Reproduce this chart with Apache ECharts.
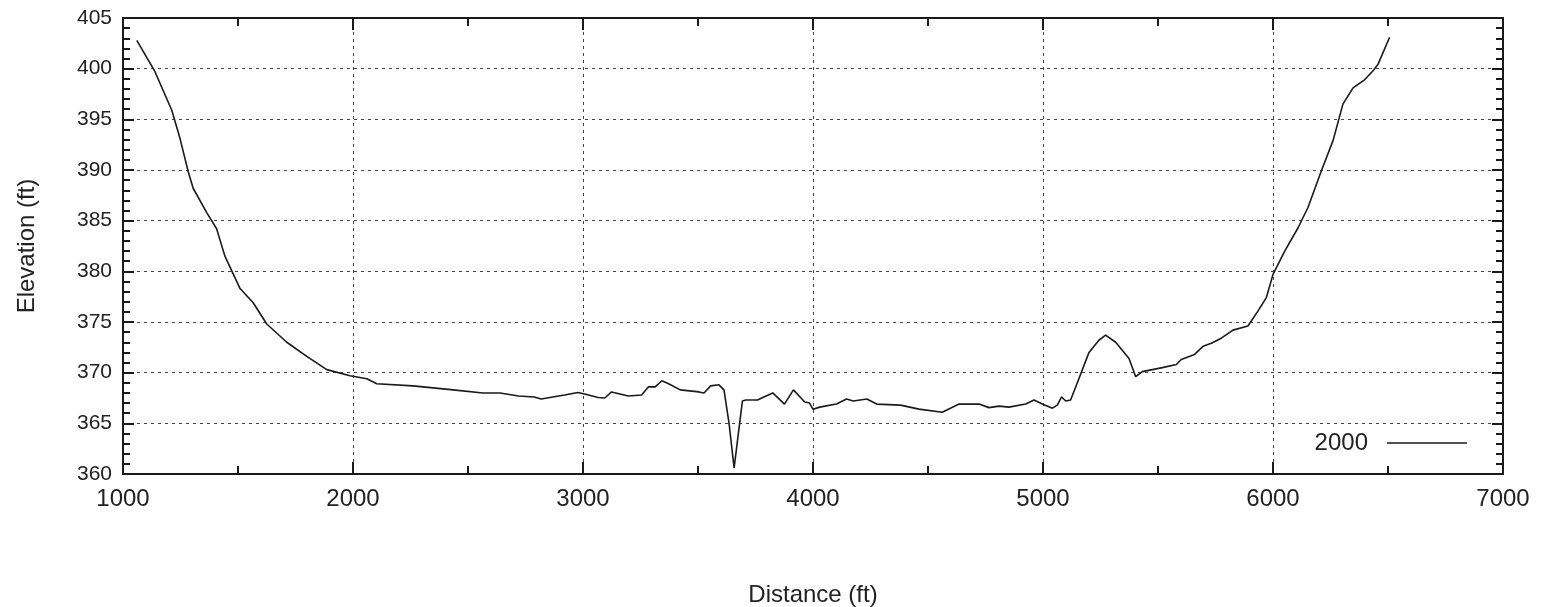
<!DOCTYPE html>
<html>
<head>
<meta charset="utf-8">
<script src="https://cdn.jsdelivr.net/npm/echarts@6/dist/echarts.min.js"></script>
<style>html,body{margin:0;padding:0;background:#fff;}#c{width:1542px;height:607px;}</style>
</head>
<body>
<div id="c"></div>
<script>
const seriesName = "2000";
const distance = [1060,1139,1212,1248,1284,1305,1364,1407,1443,1509,1566,1625,1712,1799,1886,1987,2060,2103,2261,2348,2435,2565,2639,2720,2788,2818,2920,2978,3007,3066,3095,3124,3197,3255,3285,3314,3343,3372,3423,3504,3526,3555,3591,3613,3635,3657,3693,3708,3759,3796,3825,3876,3915,3964,3985,4000,4029,4102,4146,4175,4234,4277,4380,4461,4562,4635,4722,4765,4809,4852,4925,4961,4997,5041,5062,5081,5099,5120,5156,5200,5243,5272,5316,5374,5403,5432,5519,5580,5601,5659,5696,5732,5775,5826,5891,5935,5971,6000,6051,6109,6152,6210,6261,6304,6348,6398,6435,6456,6507];
const elevation = [402.8,399.7,395.9,393.1,389.8,388.2,385.8,384.2,381.5,378.3,376.9,374.8,373.0,371.6,370.3,369.7,369.4,368.9,368.7,368.5,368.3,368.0,368.0,367.7,367.6,367.4,367.8,368.05,367.9,367.55,367.5,368.1,367.7,367.8,368.6,368.6,369.2,368.9,368.3,368.1,368.0,368.7,368.8,368.3,365.0,360.6,367.2,367.3,367.3,367.7,368.0,366.9,368.3,367.1,367.0,366.4,366.6,366.9,367.4,367.2,367.4,366.9,366.8,366.4,366.1,366.9,366.9,366.55,366.7,366.6,366.9,367.3,366.9,366.5,366.8,367.6,367.2,367.3,369.4,372.0,373.2,373.7,373.0,371.4,369.6,370.1,370.5,370.8,371.3,371.8,372.6,372.9,373.4,374.2,374.6,376.1,377.4,379.7,382.0,384.3,386.3,389.9,392.9,396.5,398.1,398.9,399.8,400.4,403.1];
const xTicks = [1000, 7000, 1000];   // min, max, interval
const yTicks = [360, 405, 5];

const chart = echarts.init(document.getElementById('c'));
const font = 'Liberation Sans, Arial, sans-serif';
const axisLine = {show: true, onZero: false, lineStyle: {color: '#1a1a1a', width: 2}};
const grid = {show: true, type: [3, 4], color: '#444', width: 1};
chart.setOption({
  backgroundColor: '#fff',
  animation: false,
  grid: {left: 123, right: 39, top: 18, bottom: 133, containLabel: false, outerBoundsMode: 'none'},
  legend: {
    data: [seriesName], right: 70, top: 426, align: 'right',
    icon: 'rect', itemWidth: 80, itemHeight: 1.5,
    textStyle: {fontFamily: font, fontSize: 24, color: '#222', padding: [0, 14, 0, 0]}
  },
  xAxis: [{
    type: 'value', min: xTicks[0], max: xTicks[1], interval: xTicks[2],
    name: 'Distance (ft)', nameLocation: 'middle', nameGap: 109,
    nameTextStyle: {fontFamily: font, fontSize: 24, color: '#222'},
    axisLine: axisLine,
    axisTick: {show: true, inside: true, length: 12, lineStyle: {color: '#1a1a1a', width: 2}},
    minorTick: {show: true, splitNumber: 2, length: 8, lineStyle: {color: '#1a1a1a', width: 2}},
    axisLabel: {fontFamily: font, fontSize: 24, color: '#222', margin: 13, formatter: v => String(v)},
    splitLine: {show: true, lineStyle: grid}
  }, {
    type: 'value', position: 'top', min: xTicks[0], max: xTicks[1], interval: xTicks[2],
    axisLine: axisLine,
    axisTick: {show: true, inside: true, length: 12, lineStyle: {color: '#1a1a1a', width: 2}},
    minorTick: {show: true, splitNumber: 2, length: 8, lineStyle: {color: '#1a1a1a', width: 2}},
    axisLabel: {show: false}, splitLine: {show: false}
  }],
  yAxis: [{
    type: 'value', min: yTicks[0], max: yTicks[1], interval: yTicks[2],
    name: 'Elevation (ft)', nameLocation: 'middle', nameGap: 84,
    nameTextStyle: {fontFamily: font, fontSize: 24, color: '#222'},
    axisLine: axisLine,
    axisTick: {show: true, inside: true, length: 11, lineStyle: {color: '#1a1a1a', width: 2}},
    minorTick: {show: true, splitNumber: 5, length: 7, lineStyle: {color: '#1a1a1a', width: 2}},
    axisLabel: {fontFamily: font, fontSize: 21, color: '#222', margin: 11},
    splitLine: {show: true, lineStyle: grid}
  }, {
    type: 'value', position: 'right', min: yTicks[0], max: yTicks[1], interval: yTicks[2],
    axisLine: axisLine,
    axisTick: {show: true, inside: true, length: 11, lineStyle: {color: '#1a1a1a', width: 2}},
    minorTick: {show: true, splitNumber: 5, length: 7, lineStyle: {color: '#1a1a1a', width: 2}},
    axisLabel: {show: false}, splitLine: {show: false}
  }],
  series: [{
    name: seriesName, type: 'line', xAxisIndex: 0, yAxisIndex: 0,
    data: distance.map((d, i) => [d, elevation[i]]),
    showSymbol: false, symbol: 'none', smooth: false,
    lineStyle: {color: '#1a1a1a', width: 1.6},
    itemStyle: {color: '#1a1a1a'}
  }]
});
</script>
</body>
</html>
